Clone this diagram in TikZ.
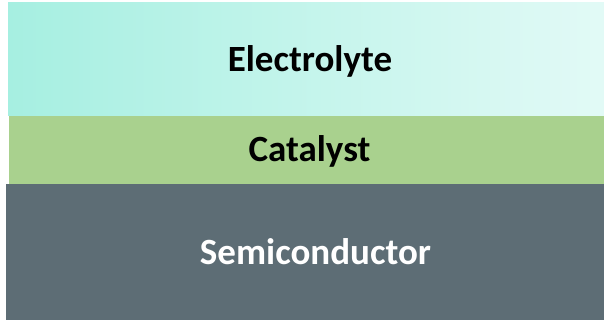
\documentclass[tikz,border=0pt]{standalone}
\usepackage{fontspec}
\setmainfont{Carlito}
\usetikzlibrary{positioning}
\definecolor{elecleft}{RGB}{166,239,225}
\definecolor{elecright}{RGB}{226,250,246}
\definecolor{catgreen}{RGB}{169,209,142}
\definecolor{semigray}{RGB}{93,109,117}

\begin{document}
\begin{tikzpicture}[node distance=0pt,
    layer/.style={inner sep=0pt, outer sep=0pt},
    tag/.style={inner sep=0pt, anchor=base, font=\bfseries\fontsize{37}{44}\selectfont}]
        \useasboundingbox (0,0) rectangle (604pt,320pt);
        \node[layer, fill=semigray, minimum width=598pt, minimum height=136pt] (semi) at (305pt,68pt) {};
        \node[layer, fill=catgreen, minimum width=595pt, minimum height=68pt, above=of semi, xshift=1.5pt] (cat) {};
        \node[layer, left color=elecleft, right color=elecright, minimum width=596pt, minimum height=113pt, above=of cat, xshift=-0.5pt] (elec) {};
        \node[tag, text=white] (semitext) at ([xshift=10.5pt, yshift=-13pt]semi.center) {Semiconductor};
        \node[tag] (cattext) at ([xshift=3pt, yshift=-12pt]cat.center) {Catalyst};
        \node[tag] (electext) at ([xshift=4pt, yshift=-12.5pt]elec.center) {Electrolyte};
      \end{tikzpicture}
\end{document}
